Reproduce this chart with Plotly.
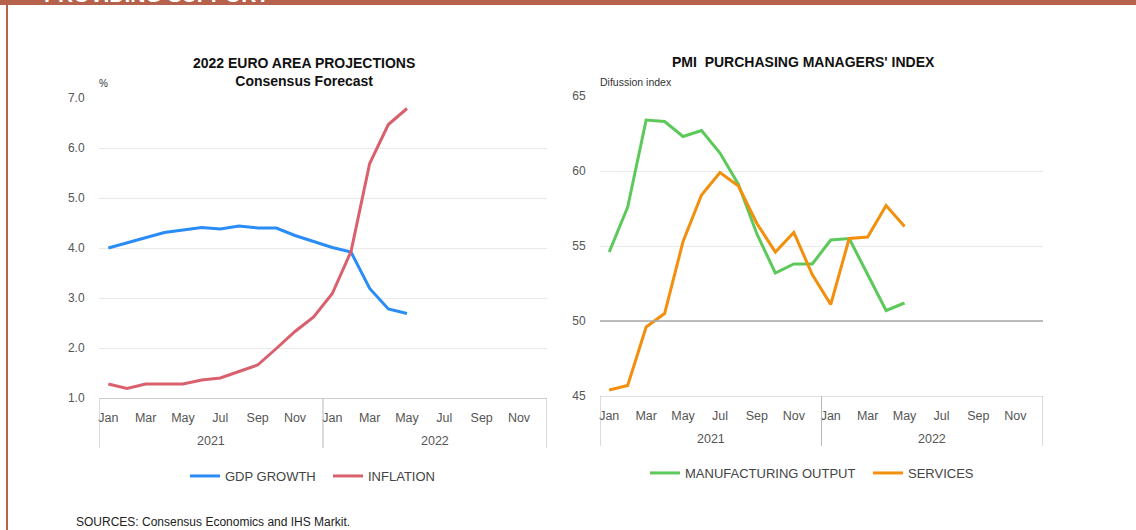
import plotly.graph_objects as go

# ---------------- data ----------------
months = ["Jan", "Feb", "Mar", "Apr", "May", "Jun", "Jul", "Aug", "Sep", "Oct", "Nov", "Dec"]
years = ["2021", "2022"]
period_labels = [f"{m} {y}" for y in years for m in months]  # 24 monthly slots

gdp_growth = [4.00, 4.10, 4.20, 4.31, 4.36, 4.41, 4.38, 4.44, 4.40, 4.40, 4.25, 4.13,
              4.01, 3.92, 3.19, 2.78, 2.69]
inflation = [1.28, 1.19, 1.28, 1.28, 1.28, 1.36, 1.40, 1.53, 1.66, 1.99, 2.33, 2.62,
             3.09, 3.93, 5.69, 6.47, 6.79]
manufacturing_output = [54.6, 57.6, 63.4, 63.3, 62.3, 62.7, 61.2, 59.1, 55.8, 53.2, 53.8, 53.8,
                        55.4, 55.5, 53.1, 50.7, 51.2]
services = [45.4, 45.7, 49.6, 50.5, 55.3, 58.4, 59.9, 59.0, 56.5, 54.6, 55.9, 53.1,
            51.1, 55.5, 55.6, 57.7, 56.3]

tick_months = months[::2]  # Jan, Mar, May, ...

# ---------------- helpers ----------------
W, H = 1136, 530
FONT = "Liberation Sans, Arial, Helvetica, sans-serif"


def fx(p):
    return p / W


def fy(p):
    return 1 - p / H


idx = lambda vals: list(range(len(vals)))
tickvals = [period_labels.index(f"{m} {y}") for y in years for m in tick_months]
ticktext = [m for y in years for m in tick_months]

fig = go.Figure()

fig.add_trace(go.Scatter(x=idx(gdp_growth), y=gdp_growth, name="GDP GROWTH", mode="lines",
                         line=dict(color="#2a8cf6", width=3), xaxis="x", yaxis="y", legend="legend"))
fig.add_trace(go.Scatter(x=idx(inflation), y=inflation, name="INFLATION", mode="lines",
                         line=dict(color="#d9606d", width=3), xaxis="x", yaxis="y", legend="legend"))
fig.add_trace(go.Scatter(x=idx(manufacturing_output), y=manufacturing_output, name="MANUFACTURING OUTPUT",
                         mode="lines", line=dict(color="#5cc95a", width=3), xaxis="x2", yaxis="y2",
                         legend="legend2"))
fig.add_trace(go.Scatter(x=idx(services), y=services, name="SERVICES", mode="lines",
                         line=dict(color="#f28f0c", width=3), xaxis="x2", yaxis="y2", legend="legend2"))

xcommon = dict(range=[-0.5, 23.5], tickmode="array", tickvals=tickvals, ticktext=ticktext,
               showgrid=False, zeroline=False, ticks="outside", ticklen=8,
               tickcolor="rgba(0,0,0,0)", tickfont=dict(size=12.5, color="#555"),
               showline=True, linewidth=1, automargin=False, fixedrange=True)
ycommon = dict(showgrid=True, gridcolor="#e9e9e9", gridwidth=1, zeroline=False, showline=False,
               ticks="outside", ticklen=11, tickcolor="rgba(0,0,0,0)",
               tickfont=dict(size=12, color="#555"), automargin=False, fixedrange=True)

fig.update_layout(
    width=W, height=H,
    margin=dict(l=0, r=0, t=0, b=0, autoexpand=False),
    paper_bgcolor="white", plot_bgcolor="white",
    font=dict(family=FONT, color="#333"),
    xaxis=dict(xcommon, domain=[fx(99), fx(547)], anchor="y", linecolor="#cfcfcf"),
    yaxis=dict(ycommon, domain=[fy(398), fy(98)], anchor="x", range=[1, 7], dtick=1, tickformat=".1f"),
    xaxis2=dict(xcommon, domain=[fx(600), fx(1043)], anchor="y2", linecolor="#dedede"),
    yaxis2=dict(ycommon, domain=[fy(396), fy(96)], anchor="x2", range=[45, 65], dtick=5),
    legend=dict(orientation="h", x=fx(185), y=fy(476), xanchor="left", yanchor="middle",
                font=dict(size=13, color="#444"), entrywidth=98, bgcolor="rgba(0,0,0,0)"),
    legend2=dict(orientation="h", x=fx(645), y=fy(473), xanchor="left", yanchor="middle",
                 font=dict(size=13, color="#444"), entrywidth=178, bgcolor="rgba(0,0,0,0)"),
    showlegend=True,
)

shapes = []
# frame: top bar and left rule
shapes.append(dict(type="rect", xref="paper", yref="paper", x0=0, x1=1, y0=fy(5), y1=1,
                   fillcolor="#b5614b", line=dict(width=0), layer="above"))
shapes.append(dict(type="line", xref="paper", yref="paper", x0=fx(7), x1=fx(7), y0=0, y1=fy(4),
                   line=dict(color="#b5614b", width=2)))
# year dividers under the month axis
for xa, top, bot in (("x", 398, 448), ("x2", 396, 446)):
    for xv in (-0.5, 11.5, 23.5):
        shapes.append(dict(type="line", xref=xa, yref="paper", x0=xv, x1=xv, y0=fy(bot), y1=fy(top),
                           line=dict(color="#b8b8b8", width=1)))
# 50 threshold line on PMI chart
shapes.append(dict(type="line", xref="x2 domain", yref="y2", x0=0, x1=1, y0=50, y1=50,
                   line=dict(color="#a8a8a8", width=1.5)))
fig.update_layout(shapes=shapes)

ann = []
ann.append(dict(text="<b>PROVIDING SUPPORT</b>", xref="paper", yref="paper", x=fx(42), y=fy(8),
                xanchor="left", yanchor="bottom", showarrow=False,
                font=dict(size=21, color="white", family=FONT)))
ann.append(dict(text="<b>2022 EURO AREA PROJECTIONS</b><br><b>Consensus Forecast</b>", xref="paper",
                yref="paper", x=fx(304), y=fy(72), xanchor="center", yanchor="middle", showarrow=False,
                font=dict(size=14, color="#111"), align="center"))
ann.append(dict(text="<b>PMI\u00a0\u00a0PURCHASING MANAGERS' INDEX</b>", xref="paper", yref="paper",
                x=fx(803), y=fy(62), xanchor="center", yanchor="middle", showarrow=False,
                font=dict(size=14, color="#111")))
ann.append(dict(text="%", xref="paper", yref="paper", x=fx(97), y=fy(84), xanchor="left",
                yanchor="middle", showarrow=False, font=dict(size=10, color="#333")))
ann.append(dict(text="Difussion index", xref="paper", yref="paper", x=fx(598), y=fy(82),
                xanchor="left", yanchor="middle", showarrow=False, font=dict(size=10.5, color="#333")))
for xa, yp in (("x", 441), ("x2", 439)):
    for i, y in enumerate(years):
        ann.append(dict(text=y, xref=xa, yref="paper", x=5.5 + 12 * i, y=fy(yp), xanchor="center",
                        yanchor="middle", showarrow=False, font=dict(size=12.5, color="#555")))
ann.append(dict(text="SOURCES: Consensus Economics and IHS Markit.", xref="paper", yref="paper",
                x=fx(74), y=fy(522), xanchor="left", yanchor="middle", showarrow=False,
                font=dict(size=12, color="#222")))
fig.update_layout(annotations=ann)

fig.write_html("out.html", config=dict(displayModeBar=False),
               post_script="document.body.style.margin='0';")
